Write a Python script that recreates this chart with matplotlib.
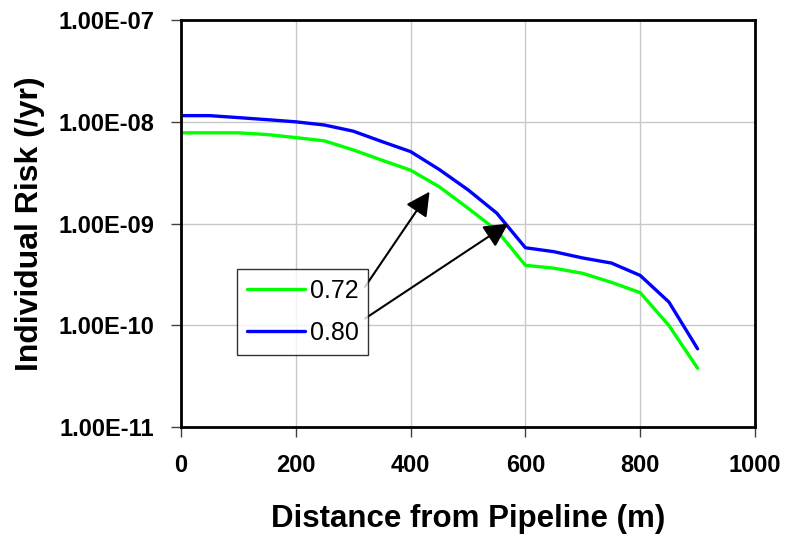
import matplotlib
matplotlib.use("Agg")
import matplotlib.pyplot as plt
from matplotlib.ticker import FixedLocator, FuncFormatter

plt.rcParams['font.family'] = ['Liberation Sans', 'DejaVu Sans']

distance = [0, 50, 100, 150, 200, 250, 300, 350, 400, 450, 500, 550, 600, 650, 700, 750, 800, 850, 900]
risk_072 = [7.8e-9, 7.8e-9, 7.8e-9, 7.5e-9, 7.0e-9, 6.5e-9, 5.3e-9, 4.2e-9, 3.35e-9, 2.3e-9, 1.42e-9,
            8.6e-10, 3.9e-10, 3.65e-10, 3.25e-10, 2.65e-10, 2.1e-10, 1.0e-10, 3.8e-11]
risk_080 = [1.15e-8, 1.15e-8, 1.10e-8, 1.05e-8, 1.0e-8, 9.3e-9, 8.1e-9, 6.4e-9, 5.1e-9, 3.4e-9, 2.15e-9,
            1.27e-9, 5.8e-10, 5.3e-10, 4.6e-10, 4.1e-10, 3.1e-10, 1.7e-10, 5.9e-11]
labels = ["0.72", "0.80"]
x_ticks = [0, 200, 400, 600, 800, 1000]
y_ticks = [1e-11, 1e-10, 1e-9, 1e-8, 1e-7]
arrow_tips = [(433, 2.06e-9), (570, 1.0e-9)]

fig = plt.figure(figsize=(7.89, 5.40), dpi=100)
ax = fig.add_axes([181/789, 1-427.3/540, (755-181)/789, (427.3-20)/540])

l1, = ax.plot(distance, risk_072, color='#00FF00', lw=2.4, label=labels[0], solid_capstyle='round')
l2, = ax.plot(distance, risk_080, color='#0000FF', lw=2.4, label=labels[1], solid_capstyle='round')

ax.set_yscale('log')
ax.set_xlim(0, 1000)
ax.set_ylim(1e-11, 1e-7)
ax.xaxis.set_major_locator(FixedLocator(x_ticks))
ax.yaxis.set_major_locator(FixedLocator(y_ticks))
ax.yaxis.set_minor_locator(FixedLocator([]))
ax.yaxis.set_major_formatter(FuncFormatter(lambda v, p: ("%.2E" % v)))
ax.xaxis.set_major_formatter(FuncFormatter(lambda v, p: "%d" % v))
ax.grid(True, color='#C8C8C8', lw=1.0)
ax.set_axisbelow(True)
for s in ax.spines.values():
    s.set_linewidth(2.0)
    s.set_color('black')
ax.tick_params(axis='both', which='major', length=7, width=1, color='#404040',
               labelsize=17, pad=12)
for t in ax.get_xticklabels() + ax.get_yticklabels():
    t.set_fontweight('bold')
ax.tick_params(axis='y', pad=12)

ax.set_xlabel('Distance from Pipeline (m)', fontsize=22.5, fontweight='bold', labelpad=20)
ax.set_ylabel('Individual Risk (/yr)', fontsize=23, fontweight='bold', labelpad=10)

leg = ax.legend(handles=[l1, l2], loc='upper left', bbox_to_anchor=(0.0976, 0.3887),
                borderaxespad=0, fontsize=18, frameon=True, fancybox=False,
                edgecolor='black', handlelength=2.3, handletextpad=0.2,
                labelspacing=0.73, borderpad=0.4)
leg.get_frame().set_linewidth(1.0)

tails = [(0.3206, 0.345), (0.3206, 0.267)]
for tip, tail in zip(arrow_tips, tails):
    ax.annotate('', xy=tip, xycoords='data', xytext=tail, textcoords='axes fraction',
                arrowprops=dict(arrowstyle='-|>,head_length=1.45,head_width=0.75',
                                color='black', lw=1.5, shrinkA=0, shrinkB=0))

fig.savefig('out.png', dpi=100)
